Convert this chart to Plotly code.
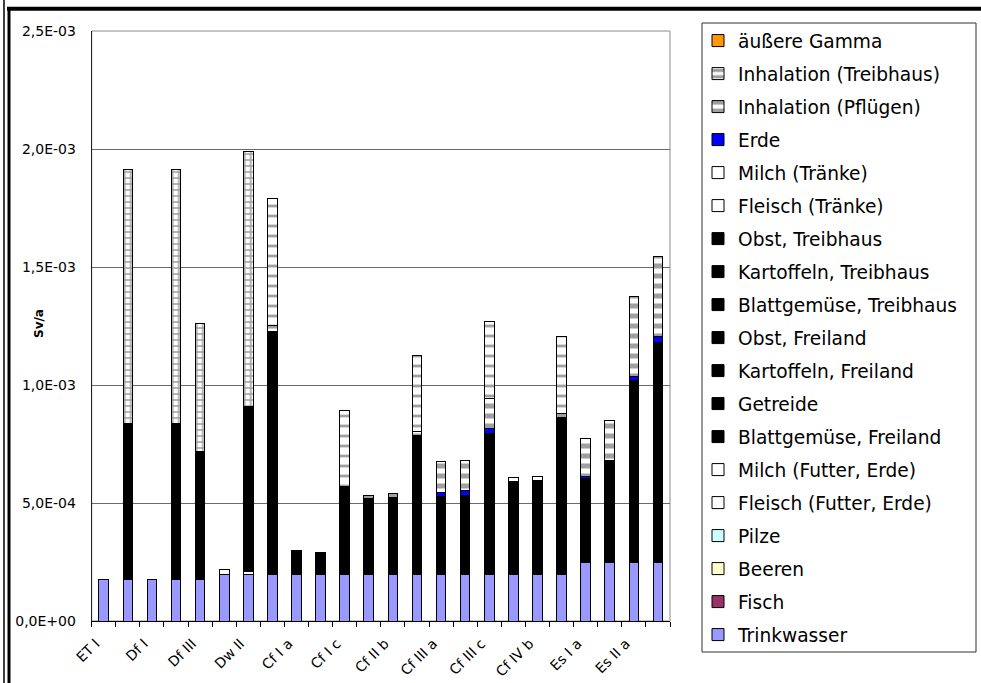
import plotly.graph_objects as go

# ---------------- data ----------------
n_categories = 24
tick_labels = ["ET I", "Df I", "Df III", "Dw II", "Cf I a", "Cf I c",
               "Cf II b", "Cf III a", "Cf III c", "Cf IV b", "Es I a", "Es II a"]
y_tick_values = [0, 5e-4, 1e-3, 1.5e-3, 2e-3, 2.5e-3]
y_tick_labels = ["0,0E+00", "5,0E-04", "1,0E-03", "1,5E-03", "2,0E-03", "2,5E-03"]

N = None
trinkwasser = [1.76e-4, 1.76e-4, 1.76e-4, 1.76e-4, 1.76e-4, 1.98e-4, 1.98e-4, 1.98e-4,
               1.98e-4, 1.98e-4, 1.98e-4, 1.98e-4, 1.98e-4, 1.98e-4, 1.98e-4, 1.98e-4,
               1.98e-4, 1.98e-4, 1.98e-4, 1.98e-4, 2.46e-4, 2.46e-4, 2.46e-4, 2.46e-4]
fisch = [N] * n_categories
beeren = [N] * n_categories
pilze = [N] * n_categories
fleisch_futter = [N] * n_categories
milch_futter = [N, N, N, N, N, 2.2e-5, 1.3e-5, N, N, N, N, N,
                N, N, N, N, N, N, N, N, N, N, N, N]
blattgemuese_freiland = [N] * n_categories
getreide = [N, 6.59e-4, N, 6.59e-4, 5.44e-4, N, 7.0e-4, 1.028e-3,
            9.9e-5, 9.1e-5, 3.74e-4, 3.2e-4, 3.24e-4, 5.86e-4, 3.29e-4, 3.35e-4,
            5.96e-4, 3.92e-4, 3.99e-4, 6.63e-4, 3.56e-4, 4.29e-4, 7.71e-4, 9.33e-4]
kartoffeln_freiland = [N] * n_categories
obst_freiland = [N] * n_categories
blattgemuese_treibhaus = [N] * n_categories
kartoffeln_treibhaus = [N] * n_categories
obst_treibhaus = [N] * n_categories
fleisch_traenke = [N] * n_categories
milch_traenke = [N, N, N, N, N, N, N, N, N, N, N, N,
                 N, N, N, N, N, 1.7e-5, 1.6e-5, N, N, N, N, N]
erde = [N, N, N, N, N, N, N, N, N, N, N, N,
        N, N, 1.8e-5, 1.8e-5, 2.0e-5, N, N, N, 9e-6, 4e-6, 2.1e-5, 2.6e-5]
inhalation_pfluegen = [N, N, N, N, N, N, N, 2.8e-5, N, N, N, 1.4e-5,
                       1.7e-5, 1.7e-5, 1.3e-4, 1.31e-4, 1.27e-4, N, N, 1.9e-5,
                       1.61e-4, 1.71e-4, 3.36e-4, 3.39e-4]
inhalation_treibhaus = [N, 1.079e-3, N, 1.079e-3, 5.4e-4, N, 1.078e-3, 5.37e-4,
                        N, N, 3.22e-4, N, N, 3.23e-4, N, N, 3.26e-4, N, N, 3.25e-4,
                        N, N, N, N]
aeussere_gamma = [N] * n_categories

# ---------------- styling ----------------
x_pos = list(range(n_categories))
GRAY = "#a0a0a0"
grid_bars = (1, 3, 4, 6)
treibhaus_shapes = ["+" if i in grid_bars else "-" for i in x_pos]
treibhaus_sizes = [6 if i in grid_bars else 10 for i in x_pos]
treibhaus_solid = [0.45 if i in grid_bars else 0.28 for i in x_pos]

series = [
    ("Trinkwasser", trinkwasser, "#9999FF", None),
    ("Fisch", fisch, "#993366", None),
    ("Beeren", beeren, "#FFFFCC", None),
    ("Pilze", pilze, "#CCFFFF", None),
    ("Fleisch (Futter, Erde)", fleisch_futter, "#FFFFFF", None),
    ("Milch (Futter, Erde)", milch_futter, "#FFFFFF", None),
    ("Blattgemüse, Freiland", blattgemuese_freiland, "#000000", None),
    ("Getreide", getreide, "#000000", None),
    ("Kartoffeln, Freiland", kartoffeln_freiland, "#000000", None),
    ("Obst, Freiland", obst_freiland, "#000000", None),
    ("Blattgemüse, Treibhaus", blattgemuese_treibhaus, "#000000", None),
    ("Kartoffeln, Treibhaus", kartoffeln_treibhaus, "#000000", None),
    ("Obst, Treibhaus", obst_treibhaus, "#000000", None),
    ("Fleisch (Tränke)", fleisch_traenke, "#FFFFFF", None),
    ("Milch (Tränke)", milch_traenke, "#FFFFFF", None),
    ("Erde", erde, "#0000FF", None),
    ("Inhalation (Pflügen)", inhalation_pfluegen, "#FFFFFF",
     dict(shape="-", fgcolor=GRAY, bgcolor="#FFFFFF", size=10, solidity=0.5, fillmode="replace")),
    ("Inhalation (Treibhaus)", inhalation_treibhaus, "#FFFFFF",
     dict(shape=treibhaus_shapes, fgcolor=GRAY, bgcolor="#FFFFFF", size=treibhaus_sizes,
          solidity=treibhaus_solid, fillmode="replace")),
    ("äußere Gamma", aeussere_gamma, "#FF9900", None),
]

fig = go.Figure()
n_series = len(series)
for k, (name, vals, color, pattern) in enumerate(series):
    marker = dict(color=color, line=dict(color="black", width=1))
    if pattern is not None:
        marker["pattern"] = pattern
    fig.add_trace(go.Bar(name=name, x=x_pos, y=vals, width=0.4, marker=marker,
                         legendgroup=name, legendrank=1000 + (n_series - k),
                         hoverinfo="name+y"))

W, H = 981, 683
LEG_FONT = 18.6
fig.update_layout(
    width=W, height=H,
    margin=dict(l=0, r=0, t=0, b=0, autoexpand=False),
    paper_bgcolor="white", plot_bgcolor="white",
    barmode="stack",
    font=dict(family="DejaVu Sans", color="black"),
    legend=dict(x=698 / W, y=1 - 22 / H, xanchor="left", yanchor="top",
                borderwidth=0, bgcolor="rgba(0,0,0,0)",
                font=dict(size=LEG_FONT, family="DejaVu Sans"),
                traceorder="grouped", tracegroupgap=33 - (LEG_FONT * 1.3 + 3)),
    xaxis=dict(domain=[91.7 / W, 670 / W], range=[-0.5, n_categories - 0.5],
               automargin=False,
               tickmode="array", tickvals=x_pos[::2], ticktext=tick_labels,
               tickangle=-45, ticks="", showline=True, linecolor="black", linewidth=1,
               showgrid=False, zeroline=False, tickfont=dict(size=14),
               ticklabelshift=-8, ticklabelstandoff=8,
               minor=dict(ticks="outside", tick0=-0.5, dtick=1, ticklen=5,
                          tickcolor="black", showgrid=False)),
    yaxis=dict(domain=[1 - 621 / H, 1 - 31 / H], range=[0, 2.5e-3],
               automargin=False,
               tickmode="array", tickvals=y_tick_values, ticktext=y_tick_labels,
               ticks="", showline=True, linecolor="#202020", linewidth=1,
               showgrid=True, gridcolor="#6a6a6a", gridwidth=1, zeroline=False,
               tickfont=dict(size=14), ticklabelstandoff=12),
    shapes=[
        dict(type="rect", xref="x domain", yref="y domain", x0=0, x1=1, y0=0, y1=1,
             line=dict(color="#8a8a8a", width=1), layer="below"),
        dict(type="rect", xref="paper", yref="paper", x0=702 / W, x1=976 / W,
             y0=1 - 652 / H, y1=1 - 23 / H, line=dict(color="#303030", width=1),
             fillcolor="rgba(0,0,0,0)", layer="below"),
        dict(type="line", xref="paper", yref="paper", x0=7 / W, x1=1, y0=1 - 8.8 / H, y1=1 - 8.8 / H,
             line=dict(color="black", width=4)),
        dict(type="line", xref="paper", yref="paper", x0=9 / W, x1=9 / W, y0=0, y1=1 - 7 / H,
             line=dict(color="black", width=3)),
        dict(type="line", xref="paper", yref="paper", x0=4 / W, x1=4 / W, y0=0, y1=1,
             line=dict(color="black", width=1.5)),
    ],
    annotations=[
        dict(text="<b>Sv/a</b>", xref="paper", yref="paper", x=30 / W, y=1 - 324 / H,
             textangle=-90, showarrow=False, font=dict(size=12, family="DejaVu Sans")),
    ],
)

fig.write_html("out.html", config={"displayModeBar": False},
               post_script="document.body.style.margin='0';document.body.style.overflow='hidden';")
